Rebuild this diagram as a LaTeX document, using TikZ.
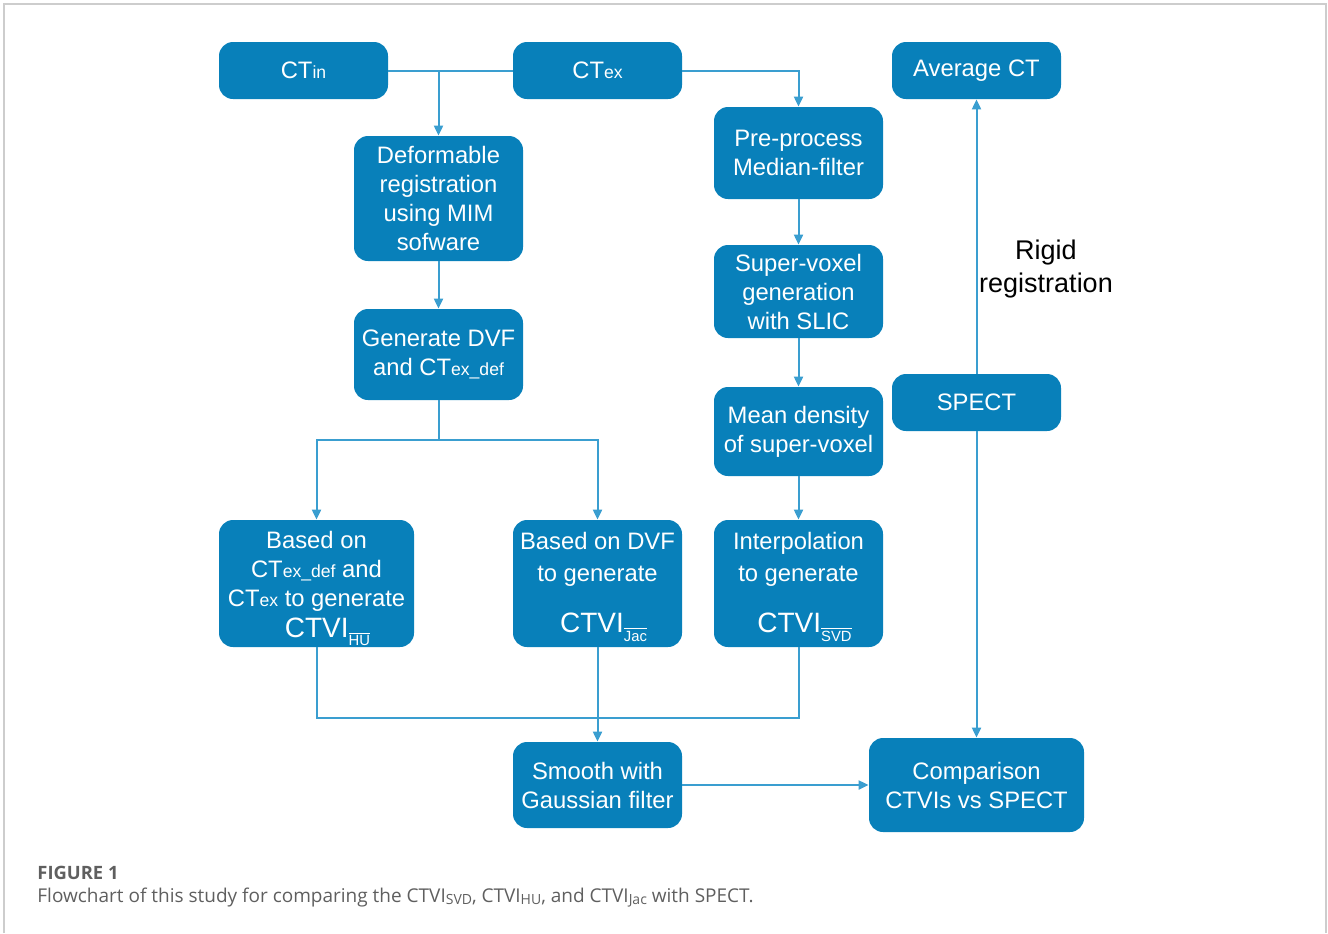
\documentclass[tikz,border=0pt]{standalone}
\usepackage{fontspec}
\setmainfont{Liberation Sans}
\newfontfamily\capfont{Open Sans}
\usetikzlibrary{arrows.meta}
\definecolor{boxblue}{RGB}{8,128,186}
\definecolor{lineblue}{RGB}{58,158,208}
\definecolor{framegray}{RGB}{205,205,205}
\definecolor{capgray}{RGB}{95,95,95}
\newcommand\sbs[1]{{\fontsize{8.8}{9}\selectfont #1}}
\newcommand\barsub[1]{\setbox0\hbox{\fontsize{7.4}{7.5}\selectfont #1}%
  \raisebox{-4.4pt}{\vbox{\hrule width\wd0 height0.5pt\kern0.9pt\box0}}}
\newcommand\capsub[1]{\raisebox{-1.3pt}{\fontsize{7}{7.5}\selectfont #1}}
\begin{document}
\begin{tikzpicture}[x=0.5pt,y=-0.5pt,
  box/.style={draw=none,fill=boxblue,rounded corners=7pt,text=white,align=center,
    inner sep=0pt,font=\fontsize{11.9}{14.5}\selectfont},
  conn/.style={draw=lineblue,line width=1pt},
  arr/.style={conn,-{Triangle[length=5pt,width=4.5pt]}}]
\useasboundingbox (0,0) rectangle (1328,933);
\draw[framegray,line width=1pt] (4,933) -- (4,4) -- (1326,4) -- (1326,933);

\node[box,minimum width=84.5pt,minimum height=28.5pt] (ctin) at (303.5,70.5) {CT\sbs{in}};
\node[box,minimum width=84.5pt,minimum height=28.5pt] (ctex) at (597.5,70.5) {CT\sbs{ex}};
\node[box,minimum width=84.5pt,minimum height=28.5pt] (avg) at (976.5,70.5) {Average CT};
\node[box,minimum width=84.5pt,minimum height=62.5pt] (def) at (438.5,198.5) {Deformable\\registration\\using MIM\\sofware};
\node[box,minimum width=84.5pt,minimum height=46pt] (pre) at (798.5,153) {Pre-process\\Median-filter};
\node[box,minimum width=84.5pt,minimum height=46.5pt] (sv) at (798.5,291.5) {Super-voxel\\generation\\with SLIC};
\node[box,minimum width=84.5pt,minimum height=45.5pt] (dvf) at (438.5,354.5) {Generate DVF\\and CT\sbs{ex\_def}};
\node[box,minimum width=84.5pt,minimum height=44.5pt] (mean) at (798.5,431.5) {Mean density\\of super-voxel};
\node[box,minimum width=84.5pt,minimum height=28.5pt] (spect) at (976.5,402.5) {SPECT};
\node[box,minimum width=97.5pt,minimum height=63.5pt] (hu) at (316.5,583.5)
  {\rule{0pt}{13.5pt}Based on\\CT\sbs{ex\_def} and\\CT\sbs{ex} to generate\\[1pt]\hspace*{11pt}{\fontsize{14}{15}\selectfont CTVI}\barsub{HU}};
\node[box,minimum width=84.5pt,minimum height=63.5pt] (jac) at (597.5,583.5)
  {\rule{0pt}{12pt}Based on DVF\\[1.5pt]to generate\\[11pt]\hspace*{6pt}{\fontsize{14}{15}\selectfont CTVI}\barsub{Jac}};
\node[box,minimum width=84.5pt,minimum height=63.5pt] (svd) at (798.5,583.5)
  {\rule{0pt}{12pt}Interpolation\\[1.5pt]to generate\\[11pt]\hspace*{6pt}{\fontsize{14}{15}\selectfont CTVI}\barsub{SVD}};
\node[box,minimum width=84.5pt,minimum height=43pt] (smooth) at (597.5,785) {Smooth with\\Gaussian filter};
\node[box,minimum width=107.5pt,minimum height=47pt] (comp) at (976.5,785) {Comparison\\CTVIs vs SPECT};

\node[align=center,font=\fontsize{13.5}{16.5}\selectfont] (rigid) at (1046,269) {Rigid\\registration};

% connectors
\draw[conn] (ctin.east) -- (ctex.west);
\draw[arr] (ctin.east -| def.north) -- (def.north);
\draw[arr] (ctex.east) -| (pre.north);
\draw[arr] (pre) -- (sv);
\draw[arr] (sv) -- (mean);
\draw[arr] (mean) -- (svd);
\draw[arr] (def) -- (dvf);
\coordinate (split) at (438.5,440);
\draw[conn] (dvf.south) -- (split);
\draw[arr] (split) -| (hu.north);
\draw[arr] (split) -| (jac.north);
\coordinate (merge) at (597.5,718);
\draw[conn] (hu.south) |- (merge);
\draw[conn] (svd.south) |- (merge);
\draw[arr] (jac.south) -- (smooth.north);
\draw[arr] (smooth) -- (comp);
\draw[arr] (spect) -- (avg);
\draw[arr] (spect) -- (comp);

% caption
\node[anchor=base west,inner sep=0pt,text=capgray,font=\capfont\bfseries\fontsize{9.2}{10}\selectfont] (fig) at (37,879) {FIGURE 1};
\node[anchor=base west,inner sep=0pt,text=capgray,font=\capfont\fontsize{9.5}{10}\selectfont] (cap) at (37,902)
  {Flowchart of this study for comparing the CTVI\capsub{SVD}, CTVI\capsub{HU}, and CTVI\capsub{Jac} with SPECT.};
\end{tikzpicture}
\end{document}
